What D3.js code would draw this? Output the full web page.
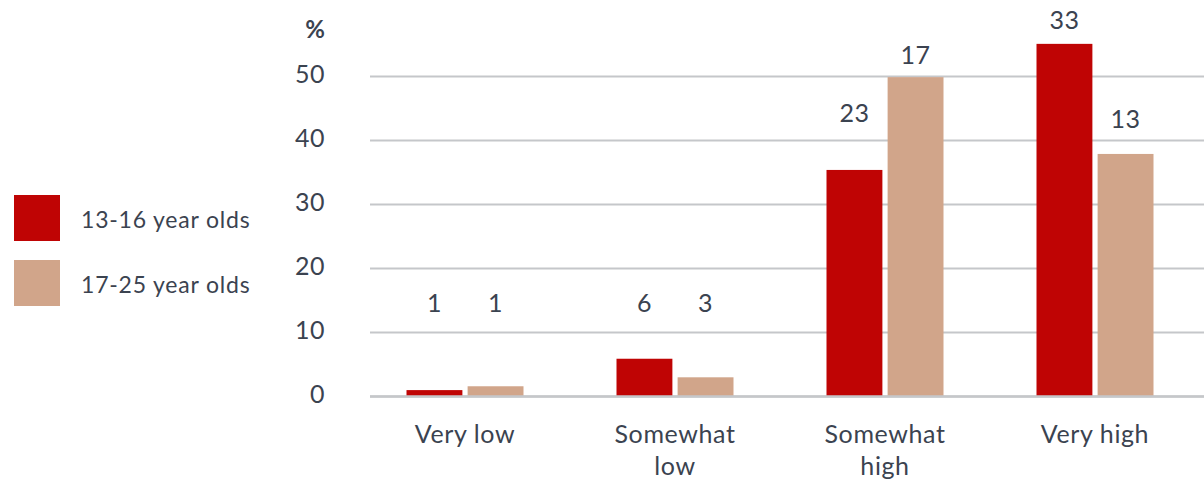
<!DOCTYPE html>
<html>
<head>
<meta charset="utf-8">
<script src="https://cdn.jsdelivr.net/npm/d3@7"></script>
<style>
  html, body { margin: 0; padding: 0; background: #fff; }
  svg { display: block; font-family: Lato, "Open Sans", sans-serif; }
</style>
</head>
<body>
<svg id="chart" width="1204" height="479"></svg>
<script>
// Response categories (line breaks marked with "|")
const categories = ["Very low", "Somewhat|low", "Somewhat|high", "Very high"];
const seriesNames = ["13-16 year olds", "17-25 year olds"];
// Share of respondents, %
const teens = [1.0, 5.9, 35.4, 55.1];
const youngAdults = [1.6, 3.0, 49.9, 37.9];
// Figures printed above each bar
const teenLabels = ["1", "6", "23", "33"];
const youngAdultLabels = ["1", "3", "17", "13"];
const yTicks = [0, 10, 20, 30, 40, 50];

const colors = ["#bf0404", "#d1a58a"];
const textColor = "#3b4350";
const gridColor = "#c5c7ca";
const font = "Lato, 'Open Sans', sans-serif";

// Heights (in % units) at which the printed figures sit
const labelLift = [[13.25, 13.25], [13.25, 13.25], [42.9, 52.0], [57.4, 41.9]];

const svg = d3.select("#chart");

const y = d3.scaleLinear().domain([0, 50]).range([396.5, 76.5]);
const x0 = d3.scaleBand().domain(categories).range([360, 1200]);
const x1 = d3.scaleBand().domain(seriesNames).range([0, 117]).paddingInner(0.0855);
const groupOffset = (x0.bandwidth() - 117) / 2;

// Grid lines
const grid = svg.append("g");
grid.selectAll("line").data(yTicks).join("line")
  .attr("x1", 370).attr("x2", 1204)
  .attr("y1", d => y(d)).attr("y2", d => y(d))
  .attr("stroke", gridColor).attr("stroke-width", 2);

// Y axis tick labels
const yAxis = d3.axisLeft(y).tickValues(yTicks).tickSize(0).tickPadding(0);
const yg = svg.append("g").attr("transform", "translate(325,0)").call(yAxis);
yg.select(".domain").remove();
yg.selectAll("text")
  .attr("fill", textColor)
  .attr("font-size", 25)
  .attr("font-family", font)
  .attr("letter-spacing", 0.5)
  .attr("dy", "0.25em");

svg.append("text")
  .attr("x", 325).attr("y", 38.3)
  .attr("text-anchor", "end")
  .attr("font-size", 24).attr("font-weight", 700)
  .attr("fill", textColor)
  .text("%");

// Bars
const rows = categories.map((c, i) => ({
  cat: c,
  vals: [
    { s: seriesNames[0], v: teens[i], label: teenLabels[i], lift: labelLift[i][0], k: 0 },
    { s: seriesNames[1], v: youngAdults[i], label: youngAdultLabels[i], lift: labelLift[i][1], k: 1 }
  ]
}));

const groups = svg.append("g").selectAll("g").data(rows).join("g")
  .attr("transform", d => `translate(${x0(d.cat) + groupOffset},0)`);

groups.selectAll("rect").data(d => d.vals).join("rect")
  .attr("x", d => x1(d.s))
  .attr("width", x1.bandwidth())
  .attr("y", d => y(d.v))
  .attr("height", d => y(0) - y(d.v))
  .attr("fill", d => colors[d.k]);

groups.selectAll("text.val").data(d => d.vals).join("text")
  .attr("class", "val")
  .attr("x", d => x1(d.s) + x1.bandwidth() / 2)
  .attr("y", d => y(d.lift))
  .attr("text-anchor", "middle")
  .attr("font-size", 25)
  .attr("letter-spacing", 0.5)
  .attr("fill", textColor)
  .text(d => d.label);

// Baseline
svg.append("line")
  .attr("x1", 370).attr("x2", 1204)
  .attr("y1", y(0)).attr("y2", y(0))
  .attr("stroke", gridColor).attr("stroke-width", 2.5);

// Category labels
const cats = svg.append("g").selectAll("text").data(categories).join("text")
  .attr("x", d => x0(d) + x0.bandwidth() / 2)
  .attr("y", 443.3)
  .attr("text-anchor", "middle")
  .attr("font-size", 25)
  .attr("letter-spacing", 0.6)
  .attr("fill", textColor);
cats.selectAll("tspan").data(d => d.split("|")).join("tspan")
  .attr("x", function () { return d3.select(this.parentNode).attr("x"); })
  .attr("dy", (d, i) => i === 0 ? 0 : 31.5)
  .text(d => d);

// Legend
const legend = svg.append("g").selectAll("g").data(seriesNames).join("g")
  .attr("transform", (d, i) => `translate(14,${195 + i * 65})`);
legend.append("rect")
  .attr("width", 46).attr("height", 46)
  .attr("fill", (d, i) => colors[i]);
legend.append("text")
  .attr("x", 67).attr("y", 33.3)
  .attr("font-size", 23)
  .attr("letter-spacing", 0.8)
  .attr("fill", textColor)
  .text(d => d);
</script>
</body>
</html>
